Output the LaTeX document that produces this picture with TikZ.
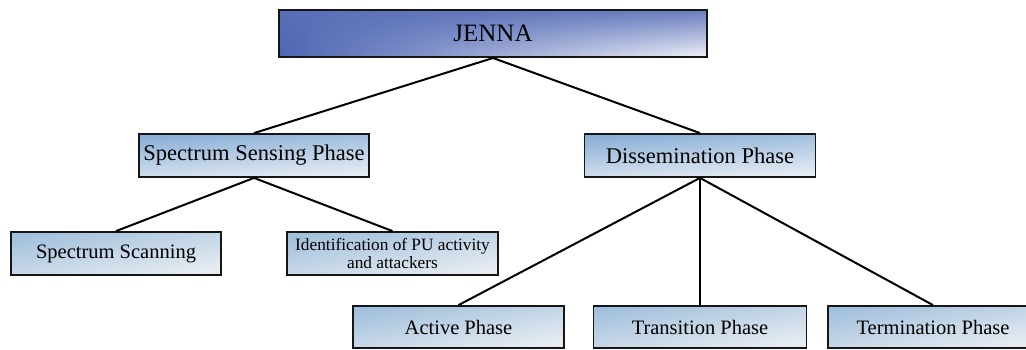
\documentclass[tikz,border=0pt]{standalone}
\usepackage{fontspec}
\setmainfont{Liberation Serif}
\usetikzlibrary{fadings}
\definecolor{jdark}{HTML}{4E66B3}
\definecolor{jlight}{HTML}{F0F2F9}
\definecolor{jmid}{HTML}{5A70B8}
\definecolor{bdark}{HTML}{88AED6}
\definecolor{blight}{HTML}{E9EEF4}
\definecolor{cdark}{HTML}{A2C0DC}
\definecolor{clight}{HTML}{E8EDF2}
\definecolor{edge}{HTML}{161616}
\tikzset{
  topbox/.style={draw=edge, line width=2pt, minimum width=428pt, minimum height=47pt,
    inner sep=0pt, font=\fontsize{25}{27}\selectfont,
    path picture={
      \shade[left color=jdark, right color=jlight]
        (path picture bounding box.south west) rectangle (path picture bounding box.north east);
      \fill[jmid, path fading=south, fill opacity=0.9]
        (path picture bounding box.south west) rectangle (path picture bounding box.north east);
    }},
  midbox/.style={draw=edge, line width=1.8pt, minimum height=43pt, inner sep=0pt,
    shade, top color=bdark, bottom color=blight, shading angle=4,
    font=\fontsize{22.5}{24}\selectfont},
  lowbox/.style={draw=edge, line width=1.8pt, minimum height=42pt, inner sep=0pt,
    shade, top color=cdark, bottom color=clight, shading angle=10,
    font=\fontsize{20.5}{22}\selectfont},
  link/.style={draw=black, line width=2pt}
}
\begin{document}
\begin{tikzpicture}[x=1pt, y=-1pt]
\useasboundingbox (0,0) rectangle (1026,349);
\node[topbox] (jenna) at (493,33.5) {JENNA};
\node[midbox, minimum width=230pt] (ssp) at (254,155.5) {Spectrum Sensing Phase};
\node[midbox, minimum width=231pt] (diss) at (700,155.5) {Dissemination Phase};
\node[lowbox, minimum width=210pt, minimum height=43pt] (scan) at (116,253.5) {Spectrum Scanning};
\node[lowbox, minimum width=211pt, minimum height=43pt, align=center,
      font=\fontsize{17.3}{18}\selectfont] (ident) at (392.5,253.5)
      {Identification of PU activity\\and attackers};
\node[lowbox, minimum width=211pt] (active) at (458.5,327) {Active Phase};
\node[lowbox, minimum width=213pt] (trans) at (700,327) {Transition Phase};
\node[lowbox, minimum width=210pt] (term) at (933,327) {Termination Phase};
\draw[link] (jenna.south) -- (ssp.north);
\draw[link] (jenna.south) -- (diss.north);
\draw[link] (ssp.south) -- (scan.north);
\draw[link] (ssp.south) -- (ident.north);
\draw[link] (diss.south) -- (active.north);
\draw[link] (diss.south) -- (trans.north);
\draw[link] (diss.south) -- (term.north);
\end{tikzpicture}
\end{document}
